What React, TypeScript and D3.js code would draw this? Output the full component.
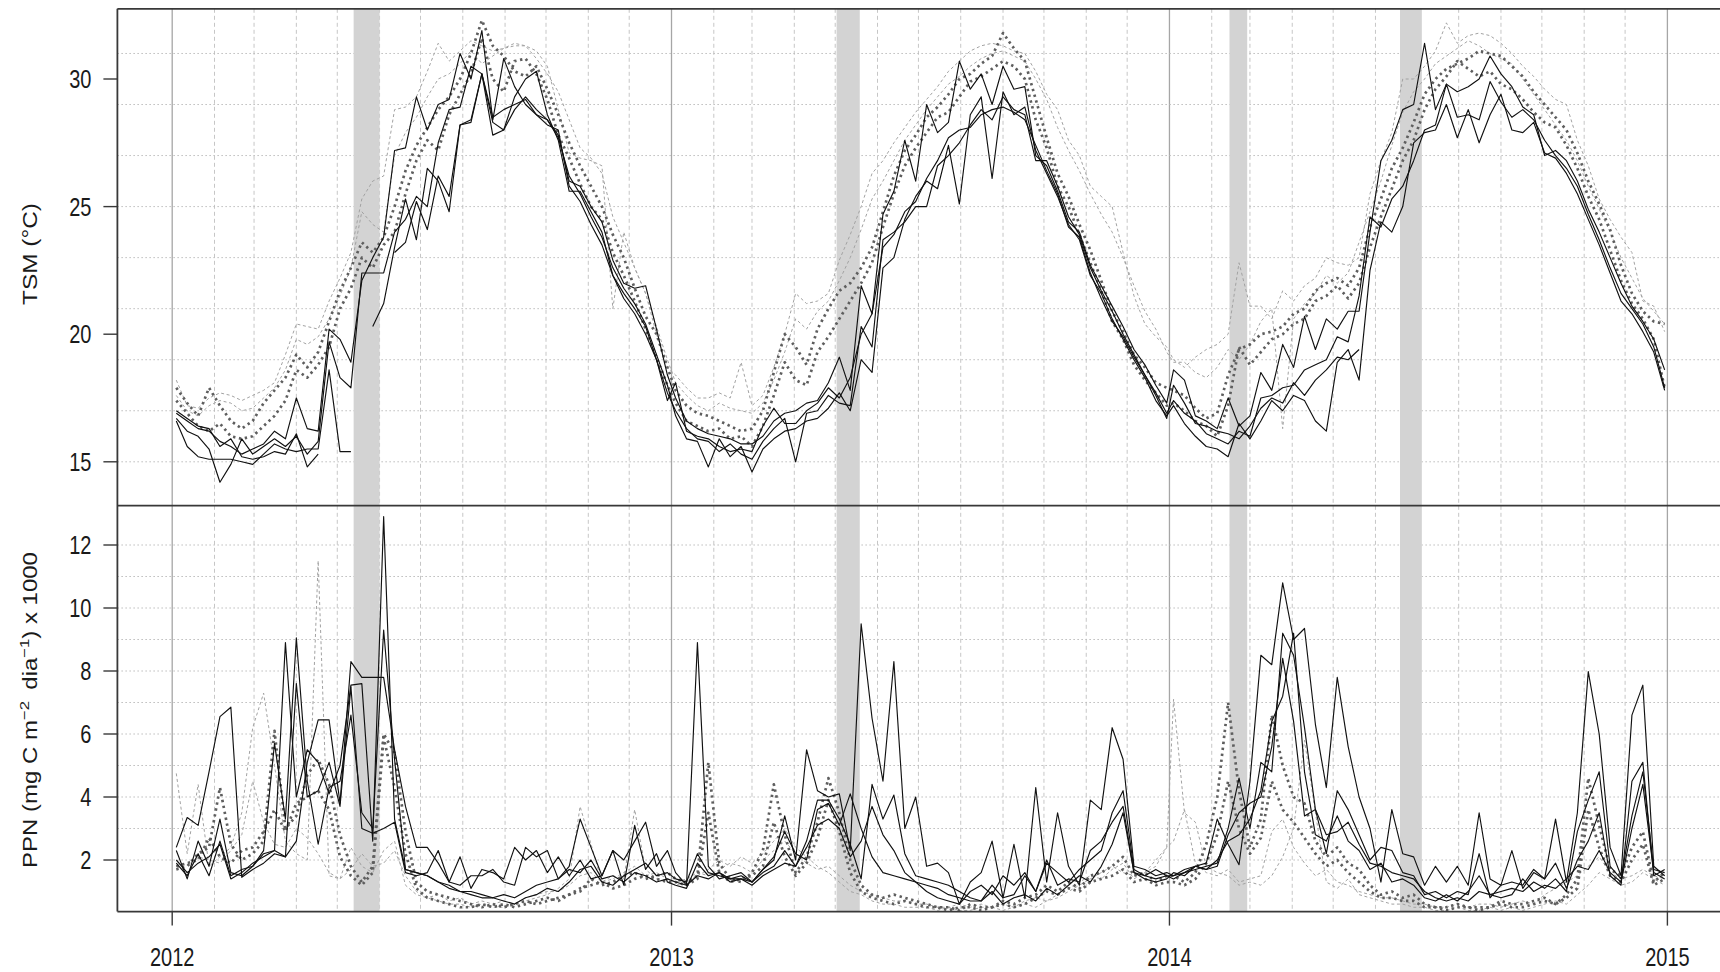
import React, { useEffect, useRef } from "react";
import * as d3 from "d3";

// ---------- DATA ----------
const years = [2012, 2013, 2014];
// 8-day composite start days (day of year)
const compositeDays = [1, 9, 17, 25, 33, 41, 49, 57, 65, 73, 81, 89, 97, 105, 113, 121, 129, 137, 145, 153, 161, 169, 177, 185, 193, 201, 209, 217, 225, 233, 241, 249, 257, 265, 273, 281, 289, 297, 305, 313, 321, 329, 337, 345, 353, 361];
const yearTicks = [2012, 2013, 2014, 2015];
const tsmTicks = [15, 20, 25, 30];
const ppnTicks = [2, 4, 6, 8, 10, 12];
const tsmGrid = [15, 17, 19, 21, 23, 25, 27, 29, 31];
const ppnGrid = [2, 3, 4, 5, 6, 7, 8, 9, 10, 11, 12];
const bandStarts = ["2012-05-13", "2013-05-02", "2014-02-14", "2014-06-19"];
const bandEnds = ["2012-06-01", "2013-05-19", "2014-02-27", "2014-07-05"];

const _ = null;
// TSM (°C) — solid black stations
const tsmSolid1 = [
  16.9, 16.6, 16.3, 16.2, 15.8, 15.6, 15.3, 15.5, 15.7, 16.2, 15.9, 17.5, 16.3, 16.2, 20.2, 19.8, 18.9, 22.1, 23.0, 23.8, 27.2, 27.3, 29.3, 28.0, 29.0, 29.2, 31.0, 30.0, 31.9, 28.4, 30.8, 29.7, 29.0, 28.6, 28.4, 27.8, 26.0, 25.8, 25.0, 24.4, 22.9, 22.0, 21.8, 21.9, 20.2, 18.4,
  17.5, 16.6, 16.3, 16.1, 16.0, 15.9, 15.7, 15.7, 16.0, 16.6, 16.9, 17.0, 17.3, 17.4, 18.1, 19.1, 17.8, 21.9, 20.8, 24.7, 25.6, 27.6, 26.0, 29.0, 27.9, 28.3, 30.7, 29.6, 30.2, 29.0, 30.5, 29.6, 29.7, 27.0, 26.6, 25.6, 24.4, 24.0, 22.7, 21.9, 21.1, 20.3, 19.4, 18.8, 18.0, 17.3,
  18.6, 18.2, 16.8, 16.6, 16.3, 17.5, 16.4, 16.8, 18.5, 17.8, 19.6, 18.7, 20.7, 19.4, 20.6, 20.2, 20.9, 20.9, 24.0, 26.8, 27.6, 28.8, 29.0, 31.4, 28.8, 29.8, 29.5, 29.7, 30.0, 30.9, 30.2, 29.7, 28.9, 28.6, 27.0, 27.2, 26.8, 26.0, 24.9, 24.0, 23.0, 22.0, 21.1, 20.5, 19.8, 18.6,
];
const tsmSolid2 = [
  16.7, 16.2, 16.0, 15.5, 14.2, 14.9, 15.9, 15.3, 15.6, 15.9, 15.6, 16.0, 15.3, 15.8, 19.7, 18.3, 17.9, 22.4, 22.4, 22.4, 24.0, 24.5, 25.4, 25.0, 27.5, 28.8, 28.9, 30.5, 30.2, 28.3, 28.0, 29.3, 30.0, 30.3, 28.6, 27.6, 25.6, 25.6, 24.8, 24.0, 22.3, 21.6, 21.0, 20.3, 19.0, 17.7,
  17.0, 16.3, 15.9, 15.8, 15.4, 15.7, 15.3, 15.1, 15.8, 16.3, 16.7, 15.0, 16.9, 17.0, 17.6, 17.3, 17.2, 20.3, 19.5, 23.7, 24.0, 24.4, 25.0, 25.0, 26.6, 27.0, 27.5, 28.2, 28.8, 28.4, 29.3, 28.8, 28.6, 26.8, 26.8, 25.8, 24.6, 23.9, 22.6, 21.7, 20.9, 20.0, 19.2, 18.4, 17.7, 16.9,
  17.4, 16.9, 16.6, 16.1, 15.9, 15.7, 16.2, 16.0, 17.5, 17.6, 17.9, 18.0, 18.6, 18.8, 19.0, 19.9, 19.7, 21.5, 24.6, 24.2, 25.3, 25.8, 26.8, 28.0, 28.2, 29.8, 28.5, 28.6, 28.4, 29.9, 29.1, 28.5, 28.8, 28.4, 27.6, 27.0, 26.5, 25.8, 24.7, 23.7, 22.6, 21.6, 21.0, 20.4, 19.5, 17.9,
];
const tsmSolid3 = [
  16.6, 15.6, 15.2, 15.1, 15.1, 15.1, 15.0, 14.9, 15.3, 15.7, 15.5, 15.4, 15.5, 15.5, 18.6, 15.4, 15.4, _, _, _, 23.2, 23.6, 25.2, 24.1, 26.2, 25.4, 28.2, 28.3, 30.2, 27.8, 28.0, 28.8, 29.3, 28.8, 28.4, 27.7, 26.2, 25.5, 24.6, 23.8, 22.6, 21.8, 21.2, 20.4, 19.2, 18.0,
  16.8, 15.9, 15.8, 14.8, 15.9, 15.2, 15.6, 14.6, 15.5, 15.9, 16.2, 16.3, 16.6, 16.7, 17.1, 17.7, 17.0, 19.0, 18.5, 22.6, 23.0, 24.5, 25.4, 26.0, 25.7, 27.4, 25.1, 28.6, 29.3, 26.1, 29.5, 28.6, 28.9, 27.2, 26.3, 25.4, 24.3, 23.7, 22.3, 21.6, 20.6, 19.8, 19.0, 18.3, 17.4, 16.8,
  17.2, 16.5, 16.0, 15.6, 15.5, 15.2, 16.5, 15.9, 16.6, 17.4, 17.0, 17.6, 17.4, 16.6, 16.2, 18.9, 19.4, 18.2, 22.5, 24.4, 24.0, 25.0, 27.5, 27.9, 28.0, 29.0, 27.7, 28.8, 27.5, 28.6, 29.4, 28.0, 27.9, 28.3, 27.1, 26.9, 26.3, 25.5, 24.5, 23.5, 22.4, 21.3, 20.8, 20.1, 19.3, 17.8,
];
const tsmSolid4 = [
  17.0, 16.7, 16.4, 16.3, 15.6, 15.9, 15.2, 15.1, 15.2, 15.4, 15.3, 16.1, 14.8, 15.3, _, _, _, _, 20.3, 21.2, 23.4, 25.3, 23.7, 26.5, 26.0, 24.8, 28.2, 28.4, 30.2, 28.5, 28.8, 29.0, 29.2, 28.6, 28.2, 28.0, 25.8, 25.2, 24.3, 23.5, 22.3, 21.4, 20.8, 20.0, 19.0, 17.4,
  18.1, 16.2, 16.0, 15.9, 15.6, 15.4, 15.5, 15.4, 16.4, 17.1, 16.5, 16.5, 17.0, 17.3, 17.9, 17.5, 18.3, 20.0, 20.8, 23.4, 23.9, 24.8, 25.2, 26.1, 26.8, 27.7, 28.0, 28.1, 28.6, 28.8, 28.9, 28.7, 28.4, 27.4, 26.4, 25.5, 24.2, 23.8, 22.4, 21.4, 20.5, 19.9, 19.1, 18.4, 17.6, 16.7,
  18.0, 17.3, 16.5, 16.4, 16.2, 16.1, 15.9, 16.4, 17.1, 17.5, 17.3, 18.1, 17.6, 18.2, 18.6, 19.1, 19.0, 19.4, _, _, _, _, _, _, _, _, _, _, _, _, _, _, _, _, _, _, _, _, _, _, _, _, _, _, _, _,
];
// TSM — thick dotted grey stations
const tsmDotted1 = [
  17.9, 17.3, 16.8, 17.9, 17.2, 16.6, 16.3, 16.6, 17.3, 17.8, 18.3, 19.2, 18.7, 19.3, 20.5, 21.7, 22.6, 23.6, 23.2, 23.8, 25.0, 26.4, 27.4, 28.1, 28.8, 29.3, 30.0, 31.0, 32.3, 31.3, 30.9, 30.3, 30.1, 30.5, 29.6, 28.6, 27.5, 26.6, 25.8, 25.0, 23.9, 23.0, 21.8, 20.7, 20.0, 18.7,
  17.8, 17.2, 16.9, 16.8, 16.6, 16.4, 16.2, 16.3, 17.0, 18.5, 20.0, 19.5, 18.8, 20.2, 21.0, 21.7, 22.0, 22.6, 23.4, 24.8, 26.2, 27.2, 27.8, 28.5, 28.9, 29.4, 30.0, 30.2, 30.6, 30.9, 31.8, 31.2, 30.7, 29.2, 27.7, 26.3, 25.4, 24.3, 23.3, 22.1, 20.9, 20.1, 19.2, 18.7, 18.1, 17.9,
  17.8, 17.6, 17.1, 16.7, 16.9, 18.4, 19.4, 19.6, 20.0, 20.1, 20.3, 20.8, 21.0, 21.7, 22.0, 22.2, 21.9, 22.6, 24.2, 25.3, 26.5, 27.3, 28.3, 29.4, 30.0, 30.4, 30.6, 30.8, 31.1, 31.0, 30.9, 30.5, 30.1, 29.5, 29.0, 28.5, 28.0, 27.1, 26.0, 25.1, 24.1, 22.7, 21.6, 20.9, 20.5, 20.4,
];
const tsmDotted2 = [
  17.4, 16.9, 16.4, 16.2, 16.5, 16.0, 15.9, 16.0, 16.4, 16.8, 17.4, 18.6, 18.3, 18.8, 19.5, 21.0, 21.8, 23.0, 22.6, 23.5, 24.0, 25.5, 26.8, 27.6, 27.2, 28.6, 29.4, 30.2, 31.6, 30.0, 29.5, 30.7, 30.8, 30.2, 29.2, 27.8, 26.9, 25.9, 25.0, 24.5, 23.2, 22.3, 21.3, 20.2, 19.1, 18.0,
  17.3, 16.6, 16.4, 16.2, 16.3, 15.9, 16.0, 15.6, 16.4, 17.6, 18.9, 18.2, 18.0, 19.3, 19.9, 20.6, 21.3, 22.0, 22.8, 24.2, 25.5, 26.6, 27.3, 27.9, 28.5, 28.7, 29.3, 29.9, 30.1, 30.4, 30.7, 30.5, 30.0, 28.4, 27.3, 25.8, 25.0, 23.9, 22.8, 21.7, 20.5, 19.8, 18.8, 18.2, 17.7, 17.2,
  17.3, 17.0, 16.6, 16.4, 16.0, 17.2, 19.5, 18.8, 19.3, 19.8, 20.0, 20.4, 20.6, 21.3, 21.5, 21.9, 21.4, 22.0, 23.4, 24.6, 25.7, 26.8, 27.6, 28.8, 29.6, 30.1, 30.7, 30.4, 30.1, 30.3, 29.8, 29.6, 29.2, 28.7, 28.3, 28.1, 27.4, 26.5, 25.4, 24.5, 23.3, 22.1, 21.2, 20.6, 19.8, 17.9,
];
// TSM — thin dashed light grey stations
const tsmDashed1 = [
  18.2, 17.2, 17.1, 17.5, 17.7, 17.6, 17.4, 17.6, 17.8, 18.1, 19.2, 20.4, 20.3, 20.2, 21.3, 22.2, 23.2, 25.3, 26.0, 26.2, 28.8, 28.9, 29.3, 30.3, 31.4, 30.7, 31.1, 31.5, 31.3, 31.1, 31.2, 31.3, 31.3, 31.1, 30.5, 28.8, 27.1, 26.9, 26.8, 26.6, 21.0, 24.0, 22.6, 21.6, 20.0, 18.7,
  18.4, 17.9, 17.5, 17.5, 17.7, 17.5, 18.9, 17.2, 17.6, 18.7, 20.0, 21.6, 21.2, 21.3, 21.6, 22.9, 23.9, 25.0, 26.3, 26.8, 27.5, 28.1, 28.7, 29.2, 29.7, 30.3, 30.7, 31.1, 31.3, 31.4, 31.3, 31.1, 31.0, 30.3, 29.4, 28.8, 27.6, 27.0, 25.8, 25.4, 25.0, 23.2, 21.5, 20.4, 19.9, 19.5,
  19.0, 18.7, 19.1, 19.4, 19.6, 20.0, 22.8, 21.1, 21.1, 20.6, 21.7, 21.3, 21.9, 22.2, 23.0, 22.8, 22.7, 23.0, 25.5, 26.8, 27.9, 30.0, 30.0, 30.5, 31.1, 32.2, 31.4, 31.7, 31.8, 31.7, 31.4, 31.0, 30.5, 30.1, 29.6, 29.2, 29.0, 27.6, 26.6, 25.3, 24.5, 23.8, 23.2, 21.3, 21.1, 20.1,
];
const tsmDashed2 = [
  17.6, 17.0, 16.8, 17.2, 17.4, 17.3, 17.0, 17.1, 17.5, 17.9, 18.6, 19.8, 19.6, 19.9, 20.6, 21.5, 22.6, 24.8, 24.3, 24.0, 27.0, 27.9, 28.5, 29.3, 30.0, 30.2, 30.6, 31.1, 30.6, 30.9, 31.2, 31.4, 31.3, 30.8, 30.2, 29.5, 28.4, 27.3, 26.9, 26.3, 24.6, 23.6, 22.6, 21.6, 20.3, 19.0,
  18.1, 17.6, 17.2, 17.0, 17.3, 17.1, 17.0, 16.9, 17.3, 18.2, 19.3, 20.6, 20.2, 20.9, 21.3, 22.1, 23.0, 24.1, 25.3, 26.0, 26.8, 27.6, 28.2, 28.8, 29.3, 29.8, 30.1, 30.5, 30.8, 31.0, 31.1, 30.9, 30.7, 30.0, 29.2, 28.1, 27.2, 26.4, 25.5, 24.7, 24.0, 23.0, 21.9, 20.9, 20.2, 19.3,
  18.9, 18.9, 18.5, 18.3, 18.7, 19.4, 19.0, 19.6, 20.5, 21.0, 16.3, 20.6, 21.2, 21.6, 22.3, 22.0, 22.4, 23.6, 24.8, 26.0, 27.4, 28.7, 29.5, 30.0, 30.6, 30.9, 31.2, 31.5, 31.3, 31.0, 30.8, 30.6, 30.0, 29.4, 28.8, 28.2, 27.6, 26.8, 25.8, 24.9, 24.0, 23.0, 22.2, 21.4, 20.9, 20.4,
];

// PPN (mg C m-2 dia-1) x 1000
const ppnSolid1 = [
  2.4, 3.35, 3.1, 4.8, 6.55, 6.85, 1.45, 1.7, 1.9, 2.2, 2.1, 2.6, 5.1, 6.45, 6.45, 3.8, 8.3, 7.8, 7.8, 7.8, 5.5, 3.7, 2.4, 2.4, 1.9, 1.3, 1.2, 1.5, 1.5, 1.7, 1.3, 1.2, 2.4, 2.1, 2.3, 1.4, 1.8, 3.3, 2.4, 1.5, 2.3, 2.0, 2.6, 3.2, 1.8, 2.3,
  1.6, 1.2, 8.9, 1.8, 1.4, 1.5, 1.6, 1.3, 1.7, 2.0, 3.4, 2.0, 5.5, 4.2, 4.0, 4.1, 2.3, 9.5, 6.5, 4.5, 8.3, 3.0, 4.0, 1.8, 1.9, 1.6, 0.6, 1.3, 1.6, 2.6, 0.8, 2.5, 0.8, 4.3, 1.3, 3.5, 1.8, 1.2, 3.9, 3.6, 6.2, 5.2, 1.8, 1.7, 1.5, 1.6,
  1.5, 1.7, 1.8, 1.9, 3.3, 2.5, 1.85, 4.5, 8.5, 8.2, 10.8, 9.0, 9.35, 6.3, 4.3, 7.8, 5.6, 4.0, 3.0, 1.3, 3.6, 2.2, 2.1, 1.2, 1.8, 1.3, 1.8, 1.2, 3.5, 1.4, 1.2, 2.3, 1.1, 1.6, 1.4, 3.3, 1.3, 3.5, 7.98, 6.0, 2.4, 1.5, 6.6, 7.55, 1.8, 1.5,
];
const ppnSolid2 = [
  2.3, 1.4, 2.6, 1.8, 3.3, 1.6, 1.5, 1.8, 2.2, 2.3, 8.9, 4.0, 5.5, 5.1, 4.1, 5.0, 7.55, 7.6, 2.6, 12.9, 3.3, 1.7, 1.6, 1.5, 1.3, 1.1, 1.0, 0.9, 0.8, 0.8, 0.7, 0.6, 0.8, 0.9, 1.1, 1.0, 1.3, 1.7, 1.8, 1.3, 1.2, 1.5, 1.7, 1.9, 1.5, 1.6,
  1.4, 1.3, 2.2, 1.6, 1.5, 1.4, 1.5, 1.3, 1.6, 1.8, 2.3, 1.8, 2.6, 3.9, 3.9, 3.3, 2.5, 1.4, 4.4, 3.3, 4.06, 2.2, 1.5, 1.4, 1.3, 1.2, 1.0, 0.8, 0.7, 1.2, 0.8, 0.9, 1.5, 1.0, 1.9, 1.6, 1.3, 1.7, 2.0, 2.3, 3.5, 4.2, 1.7, 1.5, 1.4, 1.5,
  1.4, 1.6, 1.7, 1.8, 1.9, 3.0, 4.6, 3.0, 5.1, 4.8, 9.2, 8.5, 6.2, 3.6, 2.2, 4.2, 3.6, 2.8, 2.0, 2.4, 2.3, 1.6, 1.5, 0.9, 1.0, 0.8, 1.0, 0.9, 2.2, 0.8, 1.2, 1.3, 1.2, 1.7, 1.4, 1.9, 1.1, 2.0, 2.6, 3.5, 1.5, 1.2, 4.5, 5.1, 1.5, 1.7,
];
const ppnSolid3 = [
  1.9, 1.5, 2.2, 1.5, 2.6, 1.5, 1.7, 1.8, 2.3, 5.7, 3.3, 9.05, 4.5, 2.5, 4.3, 4.5, 6.6, 3.5, 3.0, 9.3, 5.2, 1.7, 1.6, 1.5, 1.3, 1.2, 1.0, 1.0, 0.9, 0.8, 0.9, 0.8, 1.0, 1.2, 1.3, 1.4, 1.7, 1.6, 2.0, 1.4, 1.5, 1.3, 1.6, 1.5, 1.3, 1.4,
  1.3, 1.2, 1.5, 1.4, 1.6, 1.3, 1.4, 1.2, 1.5, 1.7, 1.9, 1.8, 2.4, 3.1, 3.3, 3.0, 2.1, 2.6, 3.7, 2.8, 2.3, 1.6, 1.3, 1.2, 1.1, 0.9, 0.8, 0.7, 0.7, 1.0, 0.6, 0.8, 0.9, 0.7, 1.1, 0.9, 1.2, 1.5, 1.3, 1.8, 2.5, 3.5, 1.6, 1.4, 1.3, 1.4,
  1.6, 1.5, 1.8, 1.7, 1.8, 2.8, 3.5, 3.8, 4.0, 5.6, 8.4, 6.4, 3.4, 3.6, 2.8, 2.9, 3.2, 2.5, 1.9, 1.8, 1.6, 1.5, 1.4, 1.0, 0.8, 0.7, 0.8, 0.7, 1.0, 0.9, 0.8, 0.9, 1.4, 1.0, 1.2, 1.1, 1.4, 1.8, 1.7, 2.3, 1.6, 1.3, 3.0, 4.4, 1.6, 1.4,
];
const ppnSolid4 = [
  2.0, 1.6, 1.9, 2.1, 2.5, 1.4, 1.6, 1.9, 2.1, 2.3, 2.1, 7.6, 4.0, 4.2, 5.1, 3.7, 7.5, 3.0, 2.85, 3.0, 3.2, 1.6, 1.5, 1.6, 2.3, 1.3, 2.1, 1.1, 1.7, 1.6, 1.4, 2.4, 2.0, 2.3, 1.6, 2.1, 1.5, 2.0, 1.4, 1.5, 2.3, 1.2, 3.1, 1.7, 2.2, 1.3,
  1.2, 1.1, 1.9, 1.5, 1.6, 1.4, 1.4, 1.3, 1.7, 2.1, 2.9, 2.2, 2.0, 3.6, 3.8, 3.1, 4.1, 3.0, 2.1, 1.6, 1.5, 1.4, 1.3, 1.0, 0.8, 0.7, 0.6, 1.0, 1.2, 0.9, 1.5, 1.2, 1.6, 1.0, 2.0, 1.2, 1.4, 1.3, 2.3, 2.6, 3.2, 3.7, 1.6, 1.5, 1.7, 1.5,
  1.5, 1.6, 1.8, 1.7, 2.0, 2.6, 2.8, 3.3, 4.2, 6.4, 7.2, 9.2, 4.8, 2.8, 2.6, 3.4, 2.6, 2.3, 1.7, 1.9, 1.3, 1.4, 1.2, 0.8, 0.7, 0.9, 0.7, 1.0, 1.5, 0.9, 1.0, 1.1, 1.0, 1.3, 1.1, 1.4, 1.0, 2.9, 3.9, 4.8, 1.8, 1.4, 3.4, 4.8, 1.7, 1.6,
];
const ppnDotted1 = [
  1.7, 1.8, 2.2, 2.4, 4.3, 2.5, 2.0, 2.2, 2.6, 6.1, 3.0, 3.4, 4.7, 5.2, 4.4, 2.8, 1.8, 1.3, 1.8, 6.0, 5.4, 2.9, 1.3, 1.0, 0.9, 0.8, 0.7, 0.6, 0.5, 0.6, 0.5, 0.6, 0.7, 0.6, 0.7, 0.8, 0.9, 1.0, 1.4, 1.2, 1.3, 1.5, 1.6, 1.4, 1.5, 1.6,
  1.4, 1.3, 1.5, 5.1, 1.9, 1.4, 1.3, 1.6, 2.3, 4.4, 2.8, 1.6, 2.1, 3.2, 4.6, 3.5, 2.0, 1.2, 0.9, 0.8, 0.9, 0.8, 0.7, 0.6, 0.5, 0.5, 0.4, 0.6, 0.5, 0.5, 0.7, 0.6, 0.8, 0.9, 1.2, 1.0, 1.3, 1.1, 1.5, 1.6, 1.8, 2.1, 1.5, 1.6, 1.3, 1.5,
  1.5, 1.3, 1.6, 2.5, 4.0, 7.0, 4.2, 2.4, 3.3, 6.6, 5.0, 4.0, 3.8, 2.6, 2.1, 2.4, 1.9, 1.7, 1.2, 0.9, 1.0, 0.8, 0.9, 0.6, 0.5, 0.5, 0.6, 0.5, 0.5, 0.5, 0.7, 0.6, 0.6, 0.7, 0.8, 0.6, 0.9, 1.4, 4.6, 3.1, 1.7, 1.5, 2.4, 2.9, 1.3, 1.6,
];
const ppnDotted2 = [
  1.8, 1.9, 2.0, 2.7, 2.1, 1.9, 2.3, 2.4, 2.9, 3.6, 2.9, 3.8, 4.0, 4.2, 3.6, 2.1, 1.5, 1.2, 1.6, 5.9, 4.3, 2.2, 1.1, 0.8, 0.7, 0.6, 0.5, 0.5, 0.6, 0.5, 0.6, 0.5, 0.6, 0.7, 0.8, 0.7, 0.9, 1.1, 1.2, 1.3, 1.1, 1.2, 1.4, 1.5, 1.4, 1.3,
  1.3, 1.2, 1.4, 3.5, 1.6, 1.3, 1.4, 1.5, 1.8, 3.2, 2.1, 1.5, 1.9, 2.7, 3.9, 2.9, 1.6, 1.0, 0.8, 0.7, 0.6, 0.7, 0.6, 0.5, 0.5, 0.4, 0.5, 0.5, 0.4, 0.5, 0.6, 0.5, 0.6, 0.8, 1.0, 0.9, 1.1, 1.0, 1.3, 1.4, 1.5, 1.7, 1.3, 1.4, 1.2, 1.3,
  1.3, 1.2, 1.4, 1.9, 2.8, 4.5, 3.0, 2.2, 2.7, 4.5, 3.6, 3.2, 2.7, 2.2, 1.8, 2.0, 1.6, 1.3, 1.0, 0.8, 0.8, 0.7, 0.7, 0.5, 0.5, 0.4, 0.5, 0.5, 0.4, 0.5, 0.6, 0.5, 0.5, 0.6, 0.7, 0.6, 0.8, 1.1, 3.6, 2.4, 1.5, 1.3, 2.0, 2.5, 1.2, 1.4,
];
const ppnDashed1 = [
  4.75, 2.2, 4.4, 1.8, 2.1, 2.4, 3.5, 6.2, 7.3, 5.0, 2.6, 2.2, 2.0, 11.5, 1.5, 1.4, 2.4, 1.8, 1.6, 2.3, 2.6, 1.2, 0.9, 0.8, 0.7, 0.6, 0.6, 0.5, 0.6, 0.5, 0.5, 0.6, 0.7, 0.8, 0.9, 1.1, 1.4, 3.7, 2.5, 1.3, 1.5, 1.4, 3.6, 1.7, 1.4, 1.3,
  1.2, 1.3, 1.5, 1.7, 2.0, 1.8, 2.1, 1.9, 2.2, 2.6, 3.0, 2.4, 2.1, 1.8, 1.6, 1.3, 1.0, 0.9, 0.7, 0.6, 0.6, 0.5, 0.5, 0.5, 0.4, 0.5, 0.4, 0.4, 0.5, 0.5, 0.4, 0.5, 0.6, 0.5, 0.7, 0.8, 1.0, 1.2, 1.4, 1.6, 1.8, 1.6, 1.5, 1.6, 2.0, 2.4,
  7.1, 3.5, 3.2, 1.8, 1.6, 1.5, 1.2, 1.3, 1.2, 1.5, 2.1, 3.0, 5.8, 3.5, 1.3, 1.1, 1.4, 0.9, 0.8, 0.7, 0.6, 0.6, 0.5, 0.5, 0.4, 0.4, 0.5, 0.4, 0.4, 0.5, 0.4, 0.5, 0.4, 0.5, 0.6, 0.7, 0.6, 0.9, 1.2, 1.6, 1.4, 1.2, 1.3, 1.6, 1.4, 1.2,
];
const ppnDashed2 = [
  1.8, 1.6, 2.1, 2.0, 1.9, 2.3, 2.8, 4.5, 3.2, 2.5, 2.4, 3.0, 2.7, 2.2, 1.6, 1.4, 1.7, 2.2, 1.8, 1.9, 2.3, 1.5, 1.0, 0.8, 0.9, 0.7, 0.8, 0.6, 0.7, 0.6, 0.7, 0.6, 0.8, 0.9, 1.0, 1.0, 1.2, 1.5, 1.6, 1.3, 1.4, 1.6, 1.8, 1.5, 1.6, 1.4,
  1.3, 1.4, 1.6, 1.5, 1.7, 1.9, 1.8, 1.6, 2.0, 2.3, 2.6, 2.2, 1.9, 1.7, 1.8, 1.5, 1.2, 1.0, 0.9, 0.8, 0.7, 0.7, 0.6, 0.6, 0.5, 0.5, 0.6, 0.5, 0.6, 0.5, 0.6, 0.5, 0.7, 0.8, 0.7, 0.9, 1.1, 1.3, 1.5, 1.4, 1.7, 1.9, 1.4, 1.6, 1.8, 2.4,
  2.6, 3.6, 1.9, 1.6, 1.5, 1.7, 1.3, 1.4, 1.5, 2.9, 3.3, 2.4, 1.9, 1.5, 1.7, 1.3, 1.2, 1.0, 0.9, 0.8, 0.8, 0.7, 0.6, 0.6, 0.5, 0.5, 0.6, 0.5, 0.6, 0.6, 0.5, 0.6, 0.7, 0.6, 0.9, 1.1, 1.3, 1.5, 1.8, 2.1, 1.6, 1.4, 1.5, 1.7, 1.5, 1.4,
];

// ---------- STYLES / LAYOUT ----------
const W = 1720, H = 972;
const L = 117.4, RIGHT = 1720, T = 8.8, MID = 505.7, B = 911.6;
const FONT = "'Liberation Sans', Arial, Helvetica, sans-serif";
const STYLE: Record<string, { stroke: string; width: number; dash: string | null }> = {
  solid: { stroke: "#111111", width: 1.15, dash: null },
  dotted: { stroke: "#5e5e5e", width: 2.7, dash: "2.4,3.6" },
  dashed: { stroke: "#a2a2a2", width: 1.0, dash: "3,2.6" },
};

export default function App() {
  const ref = useRef<SVGSVGElement>(null);

  useEffect(() => {
    document.documentElement.style.overflow = "hidden";
    document.body.style.margin = "0";
    document.body.style.overflow = "hidden";

    const svg = d3.select(ref.current);
    svg.selectAll("*").remove();

    const dates = years.flatMap((y) => compositeDays.map((d) => new Date(y, 0, d + 3)));
    const x = d3.scaleTime().domain([new Date(2012, 0, 1), new Date(2015, 0, 1)]).range([172.2, 1667.4]);
    const yT = d3.scaleLinear().domain([15, 30]).range([461.8, 79]);
    const yB = d3.scaleLinear().domain([2, 12]).range([860, 545]);

    svg.append("rect").attr("x", 0).attr("y", 0).attr("width", W).attr("height", H).attr("fill", "#fff");

    const defs = svg.append("defs");
    defs.append("clipPath").attr("id", "clipTop").append("rect").attr("x", L).attr("y", T).attr("width", RIGHT - L).attr("height", MID - T);
    defs.append("clipPath").attr("id", "clipBot").append("rect").attr("x", L).attr("y", MID).attr("width", RIGHT - L).attr("height", B - MID);

    // vertical grid: months dashed, years solid
    const months = d3.timeMonth.range(new Date(2012, 0, 1), new Date(2015, 0, 1)).filter((d) => d.getMonth() !== 0);
    const grid = svg.append("g");
    grid.selectAll("line.m").data(months).join("line")
      .attr("x1", (d) => x(d)).attr("x2", (d) => x(d)).attr("y1", T).attr("y2", B)
      .attr("stroke", "#c6c6c6").attr("stroke-width", 1).attr("stroke-dasharray", "4,3");
    grid.selectAll("line.y").data(yearTicks).join("line")
      .attr("x1", (d) => x(new Date(d, 0, 1))).attr("x2", (d) => x(new Date(d, 0, 1))).attr("y1", T).attr("y2", B)
      .attr("stroke", "#a6a6a6").attr("stroke-width", 1.3);
    // horizontal dotted grid
    grid.selectAll("line.ht").data(tsmGrid).join("line")
      .attr("x1", L).attr("x2", RIGHT).attr("y1", (d) => yT(d)).attr("y2", (d) => yT(d))
      .attr("stroke", "#bcbcbc").attr("stroke-width", 1).attr("stroke-dasharray", "1.5,2.5");
    grid.selectAll("line.hb").data(ppnGrid).join("line")
      .attr("x1", L).attr("x2", RIGHT).attr("y1", (d) => yB(d)).attr("y2", (d) => yB(d))
      .attr("stroke", "#bcbcbc").attr("stroke-width", 1).attr("stroke-dasharray", "1.5,2.5");

    // shaded bands
    const parse = d3.timeParse("%Y-%m-%d");
    svg.append("g").selectAll("rect").data(bandStarts.map((s, i) => [parse(s)!, parse(bandEnds[i])!])).join("rect")
      .attr("x", (d) => x(d[0])).attr("width", (d) => x(d[1]) - x(d[0]))
      .attr("y", T).attr("height", B - T).attr("fill", "#d3d3d3");

    const drawPanel = (
      sets: { vals: (number | null)[]; kind: string }[],
      y: d3.ScaleLinear<number, number>,
      clip: string
    ) => {
      const g = svg.append("g").attr("clip-path", `url(#${clip})`);
      const line = d3.line<{ d: Date; v: number | null }>()
        .defined((p) => p.v != null)
        .x((p) => x(p.d))
        .y((p) => y(p.v as number));
      sets.forEach((s) => {
        const st = STYLE[s.kind];
        const pts = s.vals.map((v, i) => ({ d: dates[i], v }));
        g.append("path").attr("d", line(pts) || "")
          .attr("fill", "none").attr("stroke", st.stroke).attr("stroke-width", st.width)
          .attr("stroke-linejoin", "round")
          .attr("stroke-dasharray", st.dash);
      });
    };

    drawPanel([
      { vals: tsmDashed1, kind: "dashed" }, { vals: tsmDashed2, kind: "dashed" },
      { vals: tsmDotted1, kind: "dotted" }, { vals: tsmDotted2, kind: "dotted" },
      { vals: tsmSolid1, kind: "solid" }, { vals: tsmSolid2, kind: "solid" },
      { vals: tsmSolid3, kind: "solid" }, { vals: tsmSolid4, kind: "solid" },
    ], yT, "clipTop");
    drawPanel([
      { vals: ppnDashed1, kind: "dashed" }, { vals: ppnDashed2, kind: "dashed" },
      { vals: ppnDotted1, kind: "dotted" }, { vals: ppnDotted2, kind: "dotted" },
      { vals: ppnSolid1, kind: "solid" }, { vals: ppnSolid2, kind: "solid" },
      { vals: ppnSolid3, kind: "solid" }, { vals: ppnSolid4, kind: "solid" },
    ], yB, "clipBot");

    // frame
    const fr = svg.append("g").attr("stroke", "#383838").attr("stroke-width", 1.8);
    fr.append("line").attr("x1", L).attr("x2", L).attr("y1", T).attr("y2", B);
    fr.append("line").attr("x1", L).attr("x2", RIGHT).attr("y1", T).attr("y2", T);
    fr.append("line").attr("x1", L).attr("x2", RIGHT).attr("y1", MID).attr("y2", MID);
    fr.append("line").attr("x1", L).attr("x2", RIGHT).attr("y1", B).attr("y2", B);

    // y ticks + labels
    const axisG = svg.append("g");
    const yTick = (vals: number[], y: d3.ScaleLinear<number, number>) => {
      vals.forEach((v) => {
        axisG.append("line").attr("x1", L - 14).attr("x2", L).attr("y1", y(v)).attr("y2", y(v))
          .attr("stroke", "#383838").attr("stroke-width", 1.4);
        axisG.append("text").attr("transform", `translate(91.5,${y(v)}) scale(1,1.27)`)
          .attr("text-anchor", "end").attr("dy", "0.36em")
          .attr("font-family", FONT).attr("font-size", 20).attr("fill", "#1a1a1a").text(String(v));
      });
    };
    yTick(tsmTicks, yT);
    yTick(ppnTicks, yB);

    // x ticks + labels
    yearTicks.forEach((yr) => {
      const xx = x(new Date(yr, 0, 1));
      axisG.append("line").attr("x1", xx).attr("x2", xx).attr("y1", B).attr("y2", B + 14)
        .attr("stroke", "#383838").attr("stroke-width", 1.4);
      axisG.append("text").attr("transform", `translate(${xx},966) scale(1,1.27)`)
        .attr("text-anchor", "middle")
        .attr("font-family", FONT).attr("font-size", 20).attr("fill", "#1a1a1a").text(String(yr));
    });

    // axis titles (rotated), stretched to reference length
    const title = (cy: number, target: number, build: (t: d3.Selection<SVGTextElement, unknown, null, undefined>) => void) => {
      const g = svg.append("g").attr("transform", `translate(37,${cy}) rotate(-90)`);
      const t = g.append("text").attr("text-anchor", "middle")
        .attr("font-family", FONT).attr("font-size", 19.5).attr("fill", "#1a1a1a");
      build(t as any);
      const w = (t.node() as SVGTextElement).getComputedTextLength() || target;
      t.attr("transform", `scale(${target / w},1)`);
    };
    title(254, 102, (t) => { t.text("TSM (°C)"); });
    title(710, 316, (t) => {
      t.append("tspan").text("PPN (mg C m");
      t.append("tspan").attr("font-size", 13.5).attr("dy", -8).text("\u22122");
      t.append("tspan").attr("dy", 8).text("\u2009 dia");
      t.append("tspan").attr("font-size", 13.5).attr("dy", -8).text("\u22121");
      t.append("tspan").attr("dy", 8).text(") x 1000");
    });
  }, []);

  return (
    <svg
      ref={ref}
      width={W}
      height={H}
      style={{ position: "absolute", left: 0, top: 0, display: "block", background: "#fff" }}
    />
  );
}
